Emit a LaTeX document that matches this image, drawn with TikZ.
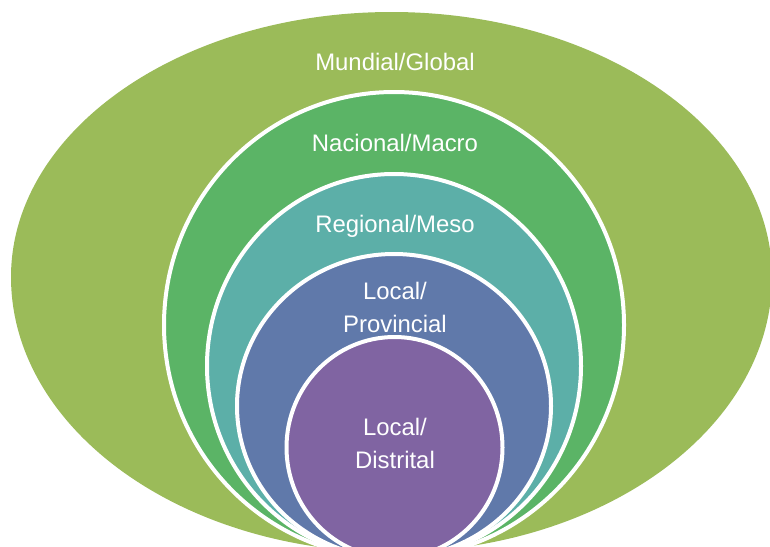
\documentclass[tikz,border=0pt]{standalone}
\usepackage{fontspec}
\setmainfont{Liberation Sans}
\definecolor{cGlobal}{HTML}{9BBB59}
\definecolor{cMacro}{HTML}{5BB466}
\definecolor{cMeso}{HTML}{5CAFA8}
\definecolor{cProv}{HTML}{6079AA}
\definecolor{cDist}{HTML}{8064A2}
\tikzset{
  ring/.style={draw=white, line width=4pt},
  egg/.style n args={5}{insert path={
    (#1-#3,#2) arc[start angle=180, end angle=0, x radius=#3, y radius=#4]
    arc[start angle=0, end angle=-180, x radius=#3, y radius=#5] -- cycle}},
  lbl/.style={text=white, font=\fontsize{23.9}{28}\selectfont, anchor=base, inner sep=0pt},
}
\begin{document}
\begin{tikzpicture}[x=1pt,y=1pt]
\useasboundingbox (0,0) rectangle (770,-546);
\clip (0,0) rectangle (770,-546);
\fill[cGlobal, egg={391.5}{-277}{380.5}{265}{275}];
\filldraw[fill=cMacro, ring] (394,-325) ellipse [x radius=230, y radius=233];
\filldraw[fill=cMeso, ring] (394,-366) ellipse [x radius=187, y radius=192];
\filldraw[fill=cProv, ring] (394,-406) ellipse [x radius=157, y radius=152];
\filldraw[fill=cDist, ring] (394.5,-447.5) ellipse [x radius=108, y radius=110.5];
\node[lbl] (global) at (395,-70) {Mundial/Global};
\node[lbl] (macro) at (395,-151) {Nacional/Macro};
\node[lbl] (meso) at (395,-232) {Regional/Meso};
\node[lbl] (provA) at (395,-299) {Local/};
\node[lbl] (provB) at (395,-332) {Provincial};
\node[lbl] (distA) at (395,-435) {Local/};
\node[lbl] (distB) at (395,-468) {Distrital};
\end{tikzpicture}
\end{document}
